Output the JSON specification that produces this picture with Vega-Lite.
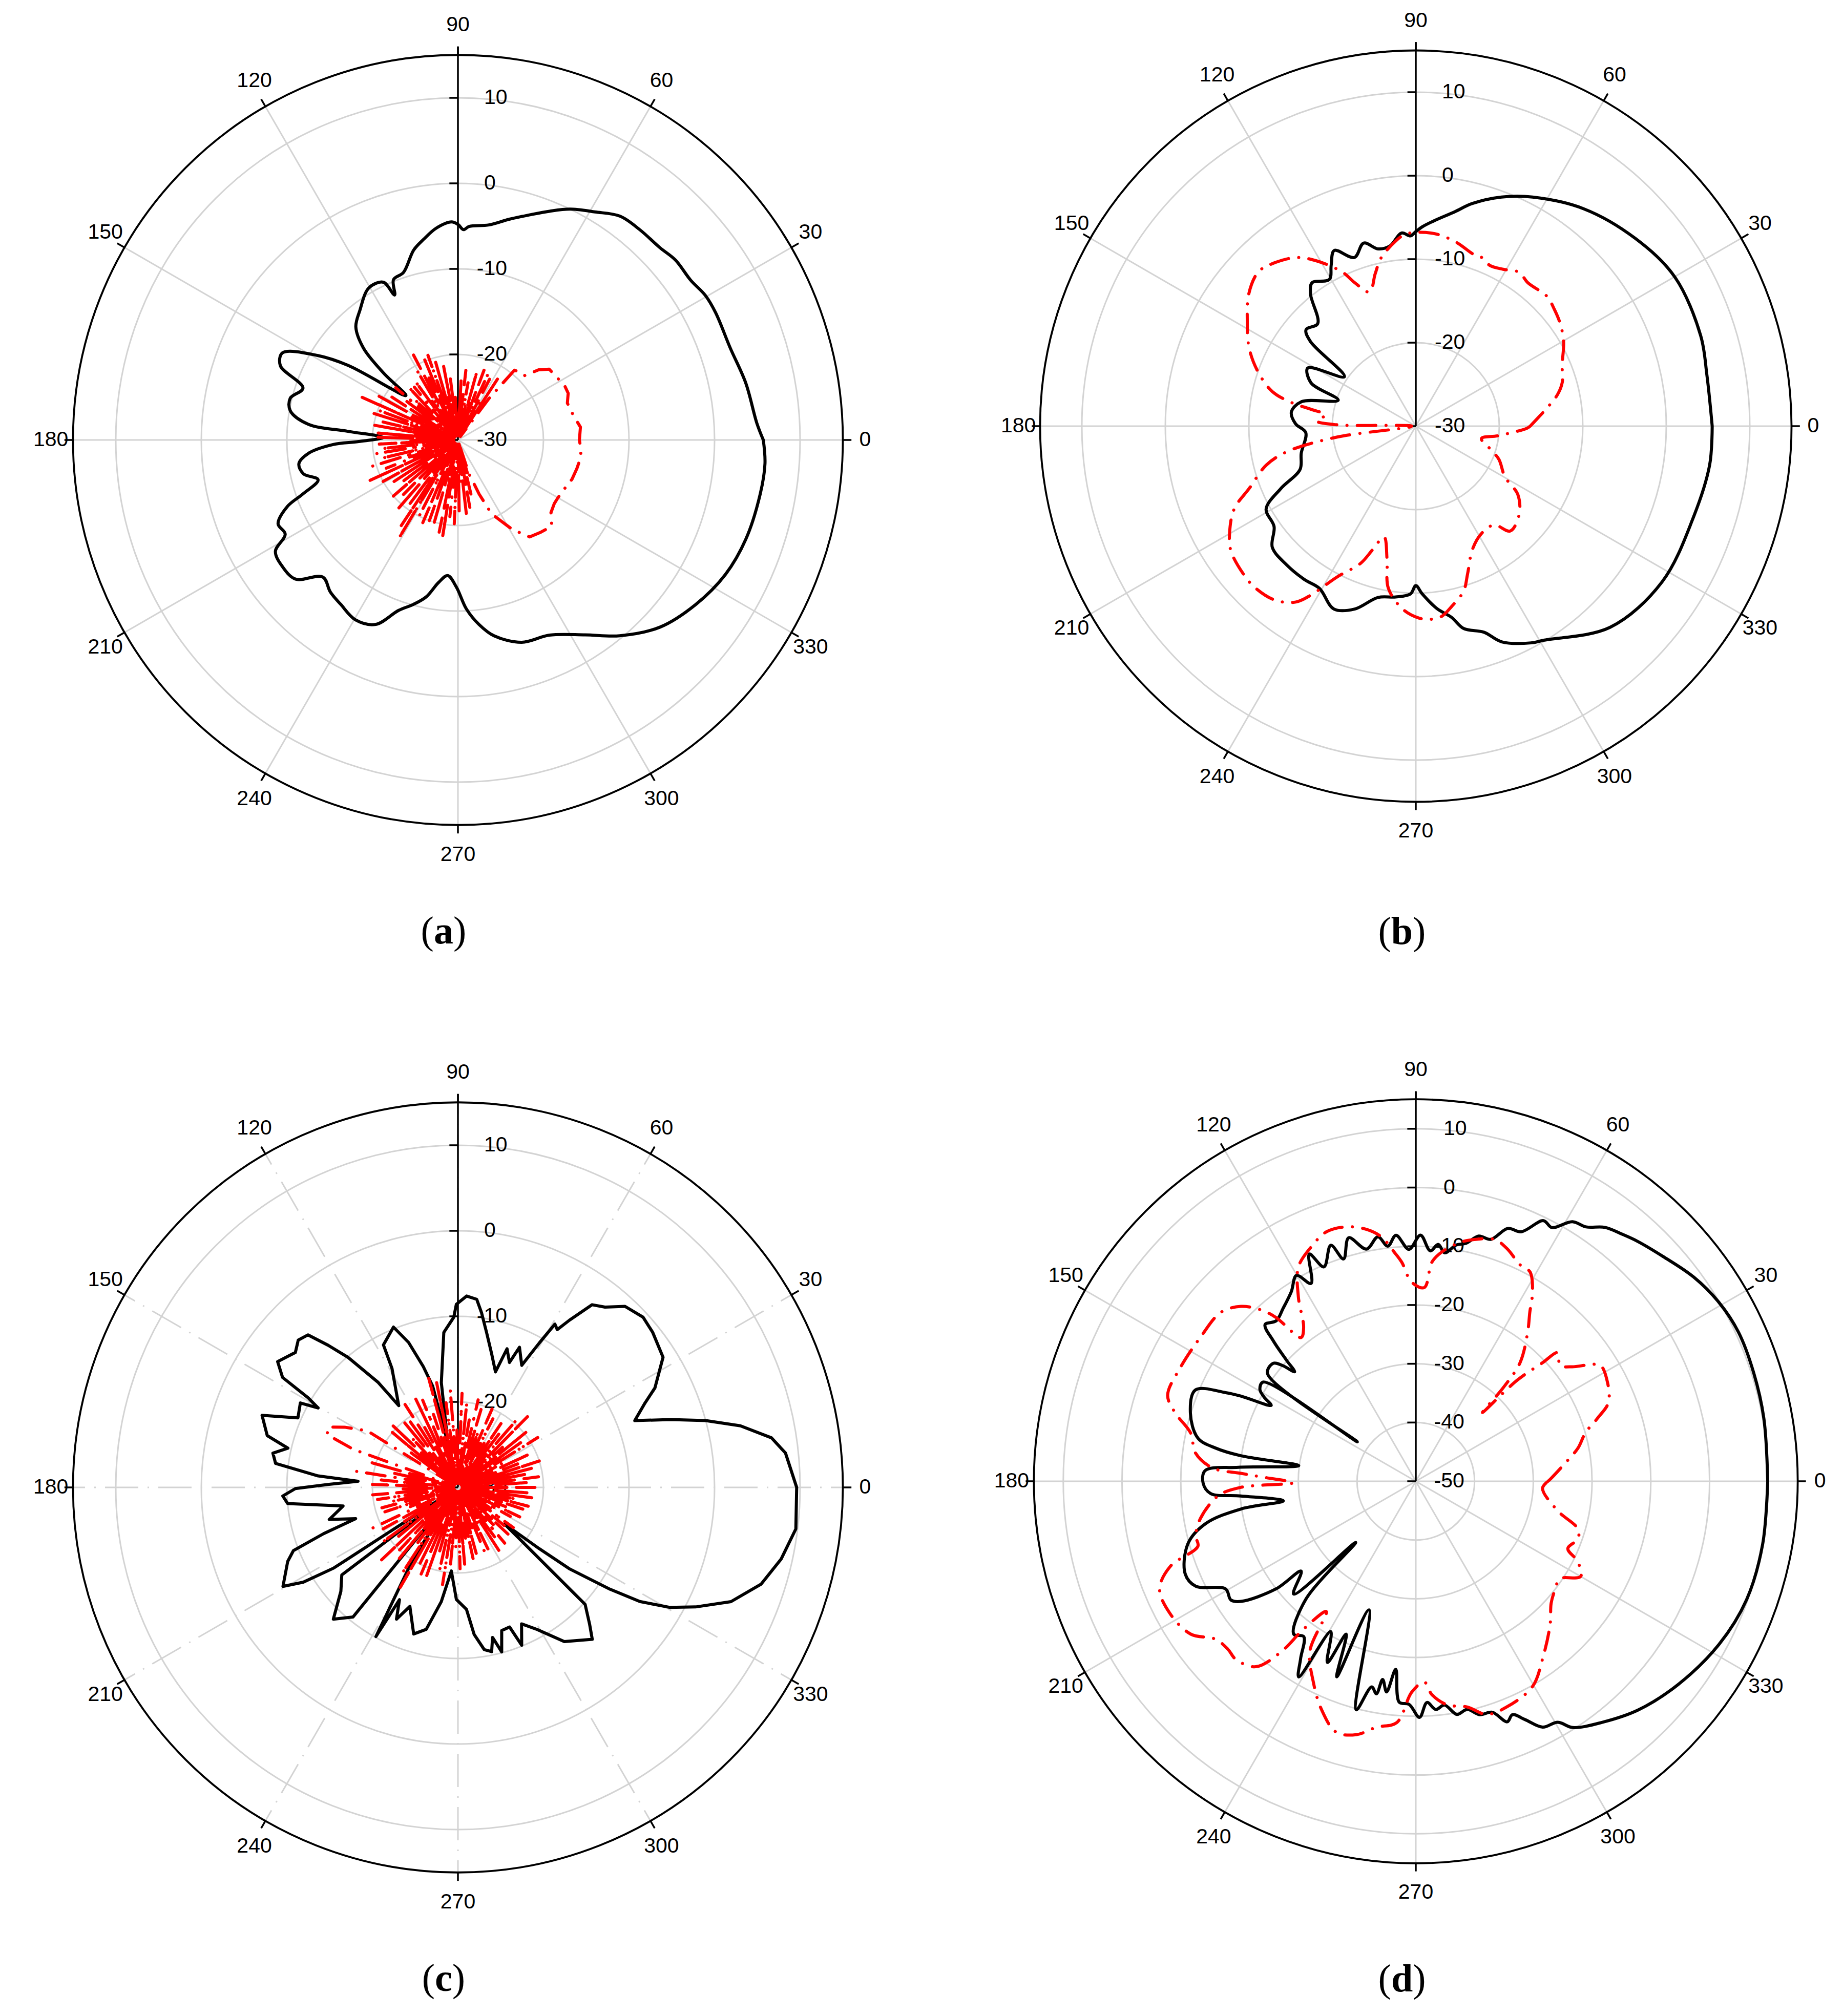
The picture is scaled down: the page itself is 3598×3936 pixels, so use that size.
{
"$schema":"https://vega.github.io/schema/vega-lite/v6.json",
"padding":0,
"background":"white",
"config":{"view":{"stroke":null}},
"resolve":{"scale":{"size":"independent","x":"independent","y":"independent"}},
"datasets":{
"ang":[{"a":0},{"a":30},{"a":60},{"a":90},{"a":120},{"a":150},{"a":180},{"a":210},{"a":240},{"a":270},{"a":300},{"a":330}],
"tk30":[{"v":-30},{"v":-20},{"v":-10},{"v":0},{"v":10}],
"tk50":[{"v":-50},{"v":-40},{"v":-30},{"v":-20},{"v":-10},{"v":0},{"v":10}],
"a_co":[{"a":0,"v":5.7},{"a":3.2,"v":5.0},{"a":11.2,"v":4.3},{"a":18.7,"v":3.6},{"a":26.3,"v":3.6},{"a":30.3,"v":3.5},{"a":34.5,"v":3.0},{"a":39.6,"v":3.0},{"a":43.6,"v":2.6},{"a":49.1,"v":2.5},{"a":54.1,"v":2.3},{"a":59,"v":1.1},{"a":64.1,"v":0.0},{"a":68.2,"v":-1.2},{"a":72.4,"v":-2.4},{"a":76.9,"v":-3.5},{"a":81.8,"v":-4.6},{"a":87,"v":-5.0},{"a":88.5,"v":-5.4},{"a":90,"v":-4.8},{"a":91.7,"v":-4.5},{"a":95.8,"v":-5.1},{"a":99.7,"v":-6.2},{"a":103.1,"v":-7.2},{"a":108,"v":-9.4},{"a":111.9,"v":-9.8},{"a":113.6,"v":-11.5},{"a":115.3,"v":-9.6},{"a":120.4,"v":-9.4},{"a":127.1,"v":-11.0},{"a":132.1,"v":-12.2},{"a":135.8,"v":-14.6},{"a":138,"v":-18.3},{"a":139.5,"v":-22.0},{"a":145.8,"v":-14.5},{"a":148.9,"v":-10.9},{"a":153.6,"v":-7.1},{"a":157.3,"v":-7.5},{"a":161.5,"v":-10.9},{"a":166,"v":-9.8},{"a":170.1,"v":-10.1},{"a":174,"v":-12.4},{"a":175.5,"v":-17.1},{"a":178.1,"v":-21.2},{"a":180.9,"v":-18.4},{"a":182.1,"v":-15.4},{"a":185.2,"v":-12.4},{"a":188.5,"v":-11.2},{"a":192.3,"v":-11.5},{"a":195.9,"v":-13.0},{"a":199.2,"v":-10.8},{"a":201.3,"v":-8.6},{"a":205,"v":-6.8},{"a":208.6,"v":-7.0},{"a":211.4,"v":-5.0},{"a":215.9,"v":-4.7},{"a":220.6,"v":-5.0},{"a":225.4,"v":-7.5},{"a":230,"v":-6.8},{"a":234.5,"v":-6.4},{"a":240.4,"v":-5.8},{"a":246,"v":-6.4},{"a":250.8,"v":-8.9},{"a":254.9,"v":-10.1},{"a":258.6,"v":-11.3},{"a":262.3,"v":-13.2},{"a":265.7,"v":-14.1},{"a":269.4,"v":-12.8},{"a":272.9,"v":-10.2},{"a":276.5,"v":-8.3},{"a":280.5,"v":-6.7},{"a":287.5,"v":-5.2},{"a":295.1,"v":-4.8},{"a":303.1,"v":-2.8},{"a":309.6,"v":-0.3},{"a":317.2,"v":2.2},{"a":325.3,"v":3.8},{"a":333.3,"v":5.0},{"a":341,"v":5.6},{"a":349.9,"v":5.9},{"a":355.6,"v":6.0},{"a":360,"v":5.7}],
"a_cx":[{"a":0,"v":-15.8},{"a":6,"v":-15.6},{"a":12,"v":-16.2},{"a":18.6,"v":-16.5},{"a":23,"v":-16.0},{"a":27,"v":-16.0},{"a":32,"v":-16.3},{"a":37.8,"v":-16.5},{"a":41,"v":-17.5},{"a":44.1,"v":-19.2},{"a":48,"v":-19.3},{"a":51,"v":-19.5},{"a":53.2,"v":-23.9},{"a":55,"v":-29.5},
{"a":56.4,"v":-29.5},{"a":57,"v":-21.5},{"a":57.6,"v":-29.5},{"a":59.4,"v":-29.5},{"a":60,"v":-25},{"a":60.6,"v":-29.5},{"a":61.9,"v":-29.5},{"a":62.5,"v":-22},{"a":63.1,"v":-29.5},{"a":64.9,"v":-29.5},{"a":65.5,"v":-21.5},{"a":66.1,"v":-29.5},{"a":68.9,"v":-29.5},{"a":69.5,"v":-21.3},{"a":70.1,"v":-29.5},{"a":71.4,"v":-29.5},{"a":72,"v":-25.5},{"a":72.6,"v":-29.5},{"a":73.9,"v":-29.5},{"a":74.5,"v":-21.6},{"a":75.1,"v":-29.5},{"a":76.9,"v":-29.5},{"a":77.5,"v":-26},{"a":78.1,"v":-29.5},{"a":79.4,"v":-29.5},{"a":80,"v":-23.2},{"a":80.6,"v":-29.5},{"a":82.9,"v":-29.5},{"a":83.5,"v":-21.8},{"a":84.1,"v":-29.5},{"a":86.4,"v":-29.5},{"a":87,"v":-23},{"a":87.6,"v":-29.5},{"a":89.9,"v":-29.5},{"a":90.5,"v":-27},{"a":91.1,"v":-29.5},{"a":92.9,"v":-29.5},{"a":93.5,"v":-25},{"a":94.1,"v":-29.5},{"a":96.4,"v":-29.5},{"a":97,"v":-22.5},{"a":97.6,"v":-29.5},{"a":100.4,"v":-29.5},{"a":101,"v":-21},{"a":101.6,"v":-29.5},{"a":102.9,"v":-29.5},{"a":103.5,"v":-24.5},{"a":104.1,"v":-29.5},{"a":105.4,"v":-29.5},{"a":106,"v":-20.5},{"a":106.6,"v":-29.5},{"a":108.9,"v":-29.5},{"a":109.5,"v":-19.5},{"a":110.1,"v":-29.5},{"a":111.9,"v":-29.5},{"a":112.5,"v":-19.6},{"a":113.1,"v":-29.5},{"a":114.4,"v":-29.5},{"a":115,"v":-22},{"a":115.6,"v":-29.5},{"a":117,"v":-29.5},{"a":117.6,"v":-18.8},{"a":118.2,"v":-29.5},{"a":119.9,"v":-29.5},{"a":120.5,"v":-20.5},{"a":121.1,"v":-29.5},{"a":122.9,"v":-29.5},{"a":123.5,"v":-24},{"a":124.1,"v":-29.5},{"a":125.4,"v":-29.5},{"a":126,"v":-21.5},{"a":126.6,"v":-29.5},{"a":128.9,"v":-29.5},{"a":129.5,"v":-22},{"a":130.1,"v":-29.5},{"a":132.4,"v":-29.5},{"a":133,"v":-21.5},{"a":133.6,"v":-29.5},{"a":136.4,"v":-29.5},{"a":137,"v":-23},{"a":137.6,"v":-29.5},{"a":139.4,"v":-29.5},{"a":140,"v":-20.5},{"a":140.6,"v":-29.5},{"a":142.4,"v":-29.5},{"a":143,"v":-22},{"a":143.6,"v":-29.5},{"a":146.4,"v":-29.5},{"a":147,"v":-20.8},{"a":147.6,"v":-29.5},{"a":150.4,"v":-29.5},{"a":151,"v":-19},{"a":151.6,"v":-29.5},{"a":152.9,"v":-29.5},{"a":153.5,"v":-24},{"a":154.1,"v":-29.5},{"a":155.4,"v":-29.5},{"a":156,"v":-17.6},{"a":156.6,"v":-29.5},{"a":158.9,"v":-29.5},{"a":159.5,"v":-20},{"a":160.1,"v":-29.5},{"a":161.9,"v":-29.5},{"a":162.5,"v":-19.5},{"a":163.1,"v":-29.5},{"a":165.9,"v":-29.5},{"a":166.5,"v":-21},{"a":167.1,"v":-29.5},{"a":169.4,"v":-29.5},{"a":170,"v":-20},{"a":170.6,"v":-29.5},{"a":171.9,"v":-29.5},{"a":172.5,"v":-25},{"a":173.1,"v":-29.5},{"a":174.4,"v":-29.5},{"a":175,"v":-20.6},{"a":175.6,"v":-29.5},{"a":177.4,"v":-29.5},{"a":178,"v":-20.4},{"a":178.6,"v":-29.5},{"a":179.9,"v":-29.5},{"a":180.5,"v":-24.5},{"a":181.1,"v":-29.5},{"a":182.4,"v":-29.5},{"a":183,"v":-20.8},{"a":183.6,"v":-29.5},{"a":185.9,"v":-29.5},{"a":186.5,"v":-21},{"a":187.1,"v":-29.5},{"a":188.9,"v":-29.5},{"a":189.5,"v":-20.3},{"a":190.1,"v":-29.5},{"a":192.9,"v":-29.5},{"a":193.5,"v":-20.8},{"a":194.1,"v":-29.5},{"a":196.4,"v":-29.5},{"a":197,"v":-19.5},{"a":197.6,"v":-29.5},{"a":198.9,"v":-29.5},{"a":199.5,"v":-24},{"a":200.1,"v":-29.5},{"a":200.9,"v":-29.5},{"a":201.5,"v":-21},{"a":202.1,"v":-29.5},{"a":204.1,"v":-29.5},{"a":204.7,"v":-18.5},{"a":205.3,"v":-29.5},{"a":208.4,"v":-29.5},{"a":209,"v":-20},{"a":209.6,"v":-29.5},{"a":212.4,"v":-29.5},{"a":213,"v":-21},{"a":213.6,"v":-29.5},{"a":216.4,"v":-29.5},{"a":217,"v":-21.5},{"a":217.6,"v":-29.5},{"a":220.4,"v":-29.5},{"a":221,"v":-20},{"a":221.6,"v":-29.5},{"a":224.4,"v":-29.5},{"a":225,"v":-21},{"a":225.6,"v":-29.5},{"a":228.4,"v":-29.5},{"a":229,"v":-19},{"a":229.6,"v":-29.5},{"a":232.4,"v":-29.5},{"a":233,"v":-20.3},{"a":233.6,"v":-29.5},{"a":235.9,"v":-29.5},{"a":236.5,"v":-18},{"a":237.1,"v":-29.5},{"a":238.4,"v":-29.5},{"a":239,"v":-16.5},{"a":239.6,"v":-29.5},{"a":242.4,"v":-29.5},{"a":243,"v":-20},{"a":243.6,"v":-29.5},{"a":246.4,"v":-29.5},{"a":247,"v":-19.5},{"a":247.6,"v":-29.5},{"a":249.9,"v":-29.5},{"a":250.5,"v":-20},{"a":251.1,"v":-29.5},{"a":253.4,"v":-29.5},{"a":254,"v":-19.5},{"a":254.6,"v":-29.5},{"a":255.9,"v":-29.5},{"a":256.5,"v":-25},{"a":257.1,"v":-29.5},{"a":257.9,"v":-29.5},{"a":258.5,"v":-19},{"a":259.1,"v":-29.5},{"a":260.4,"v":-29.5},{"a":261,"v":-18.2},{"a":261.6,"v":-29.5},{"a":263.4,"v":-29.5},{"a":264,"v":-21},{"a":264.6,"v":-29.5},{"a":266.9,"v":-29.5},{"a":267.5,"v":-20.2},{"a":268.1,"v":-29.5},{"a":270.4,"v":-29.5},{"a":271,"v":-21.5},{"a":271.6,"v":-29.5},{"a":273.4,"v":-29.5},{"a":274,"v":-25},{"a":274.6,"v":-29.5},{"a":275.9,"v":-29.5},{"a":276.5,"v":-21},{"a":277.1,"v":-29.5},{"a":279.4,"v":-29.5},{"a":280,"v":-22},{"a":280.6,"v":-29.5},{"a":282.9,"v":-29.5},{"a":283.5,"v":-23.5},{"a":284.1,"v":-29.5},{"a":285.4,"v":-29.5},{"a":286,"v":-26},{"a":286.6,"v":-29.5},
{"a":288,"v":-25.9},{"a":291.4,"v":-23.2},{"a":294.5,"v":-20.5},{"a":301.2,"v":-17.8},{"a":306.5,"v":-15.9},{"a":312,"v":-15.5},{"a":317.4,"v":-15.1},{"a":322,"v":-16.2},{"a":326.5,"v":-16.5},{"a":330,"v":-16.5},{"a":335.4,"v":-16.3},{"a":341,"v":-15.9},{"a":346.5,"v":-15.7},{"a":352,"v":-15.5},{"a":356,"v":-15.6},{"a":360,"v":-15.8}],
"b_co":[{"a":0,"v":5.5},{"a":10,"v":5.4},{"a":17.6,"v":5.8},{"a":29.9,"v":5.8},{"a":40.5,"v":4.6},{"a":52.3,"v":2.9},{"a":63,"v":0.8},{"a":69.5,"v":-0.7},{"a":75.8,"v":-2.5},{"a":79.7,"v":-3.9},{"a":84.9,"v":-5.3},{"a":88.1,"v":-6.1},{"a":90,"v":-6.7},{"a":91.6,"v":-7.2},{"a":94.2,"v":-6.8},{"a":98.2,"v":-8.2},{"a":102,"v":-8.3},{"a":105.9,"v":-7.2},{"a":110,"v":-8.5},{"a":114.9,"v":-6.8},{"a":117.7,"v":-8.2},{"a":120.5,"v":-9.6},{"a":125.9,"v":-8.8},{"a":128.6,"v":-9.8},{"a":133.7,"v":-13.0},{"a":138.7,"v":-12.5},{"a":141.2,"v":-13.8},{"a":145.3,"v":-19.6},{"a":151.7,"v":-15.3},{"a":157.5,"v":-16.4},{"a":161.5,"v":-20.2},{"a":167.9,"v":-16.0},{"a":173.5,"v":-15.0},{"a":178.9,"v":-15.6},{"a":183.4,"v":-16.8},{"a":193.3,"v":-15.9},{"a":200.5,"v":-15.2},{"a":204.8,"v":-12.2},{"a":209,"v":-9.5},{"a":215.3,"v":-9.2},{"a":220.2,"v":-7.5},{"a":227.1,"v":-7.3},{"a":234.1,"v":-7.3},{"a":239.3,"v":-7.4},{"a":245.9,"v":-6.0},{"a":251.5,"v":-6.9},{"a":257.6,"v":-9.0},{"a":263.3,"v":-9.4},{"a":268.2,"v":-9.9},{"a":270,"v":-10.9},{"a":272.2,"v":-9.9},{"a":276.6,"v":-8.0},{"a":280.6,"v":-6.7},{"a":283.3,"v":-5.1},{"a":288.3,"v":-4.0},{"a":291.7,"v":-2.2},{"a":298,"v":-0.6},{"a":301,"v":-0.1},{"a":314,"v":3.5},{"a":327.7,"v":4.9},{"a":342,"v":5.0},{"a":352.5,"v":5.5},{"a":360,"v":5.5}],
"b_cx":[{"a":0,"v":-16.3},{"a":2.5,"v":-15.7},{"a":8.6,"v":-13.9},{"a":12.6,"v":-12.6},{"a":16.6,"v":-11.7},{"a":22.7,"v":-11.0},{"a":29.8,"v":-9.6},{"a":35.3,"v":-8.8},{"a":40.1,"v":-8.3},{"a":44.7,"v":-7.9},{"a":52,"v":-8.2},{"a":56.1,"v":-7.8},{"a":60.9,"v":-8.5},{"a":65.3,"v":-8.8},{"a":68.8,"v":-8.3},{"a":71.3,"v":-8.3},{"a":77.2,"v":-7.5},{"a":81.9,"v":-7.0},{"a":85.5,"v":-6.8},{"a":90,"v":-6.8},{"a":93.3,"v":-7.0},{"a":96.2,"v":-7.7},{"a":101.6,"v":-9.4},{"a":104.9,"v":-11.1},{"a":109,"v":-13.0},{"a":113.1,"v":-11.3},{"a":115.4,"v":-9.6},{"a":121,"v":-6.9},{"a":125.5,"v":-5.2},{"a":132.3,"v":-3.9},{"a":135.8,"v":-3.6},{"a":141.7,"v":-4.5},{"a":148,"v":-6.2},{"a":154.7,"v":-7.9},{"a":160.7,"v":-9.9},{"a":166.4,"v":-12.3},{"a":169.4,"v":-15.0},{"a":170.8,"v":-17.2},{"a":173,"v":-19.1},{"a":177,"v":-18.1},{"a":179,"v":-20.5},{"a":181,"v":-29.5},{"a":187.9,"v":-20.5},{"a":191.2,"v":-14.3},{"a":194.6,"v":-11.5},{"a":200.5,"v":-8.7},{"a":204.5,"v":-6.1},{"a":209.8,"v":-4.3},{"a":213.9,"v":-3.3},{"a":220.5,"v":-2.8},{"a":225,"v":-2.7},{"a":231.1,"v":-3.2},{"a":235.7,"v":-4.5},{"a":238.3,"v":-6.3},{"a":242.4,"v":-9.6},{"a":248.1,"v":-12.3},{"a":250.7,"v":-14.3},{"a":254,"v":-16.2},{"a":257.8,"v":-13.7},{"a":260.4,"v":-10.3},{"a":266,"v":-8.0},{"a":271,"v":-7.0},{"a":274.5,"v":-6.8},{"a":277.7,"v":-7.0},{"a":281.3,"v":-8.0},{"a":286.1,"v":-9.4},{"a":289.4,"v":-11.3},{"a":294.5,"v":-13.7},{"a":301.2,"v":-14.9},{"a":308.4,"v":-14.9},{"a":312,"v":-13.1},{"a":319.4,"v":-13.7},{"a":326.2,"v":-15.3},{"a":330.3,"v":-17.7},{"a":338.3,"v":-19.3},{"a":343,"v":-20.7},{"a":349.3,"v":-22.0},{"a":353.5,"v":-20.0},{"a":358.9,"v":-16.7},{"a":360,"v":-16.3}],
"c_co":[{"a":0,"v":9.6},{"a":6,"v":8.5},{"a":9,"v":7.1},{"a":12.3,"v":3.8},{"a":15.1,"v":0.0},{"a":17.7,"v":-3.9},{"a":20.7,"v":-7.9},{"a":24.3,"v":-6.0},{"a":26.8,"v":-4.2},{"a":32.4,"v":-1.6},{"a":38.5,"v":-0.9},{"a":42.6,"v":-0.6},{"a":47.3,"v":-1.2},{"a":50.8,"v":-2.8},{"a":53.7,"v":-3.5},{"a":56.3,"v":-6.5},{"a":57.8,"v":-8.2},{"a":59.3,"v":-7.8},{"a":60.6,"v":-10.6},{"a":62.4,"v":-13.9},{"a":66.3,"v":-12.1},{"a":67.6,"v":-14.2},{"a":70.5,"v":-12.8},{"a":72,"v":-15.8},{"a":76,"v":-13.8},{"a":79.5,"v":-11.6},{"a":82.3,"v":-9.4},{"a":84.3,"v":-7.9},{"a":87.4,"v":-7.6},{"a":90.5,"v":-8.6},{"a":91.4,"v":-10.1},{"a":95.2,"v":-11.8},{"a":99,"v":-17.6},{"a":102.8,"v":-24.7},{"a":104,"v":-17.8},{"a":106,"v":-15.3},{"a":108.8,"v":-12.1},{"a":111.9,"v":-9.8},{"a":117.6,"v":-11.2},{"a":119,"v":-14.1},{"a":125.9,"v":-18.2},{"a":127.2,"v":-14.6},{"a":130.2,"v":-10.1},{"a":132.4,"v":-7.5},{"a":134.5,"v":-5.0},{"a":137.3,"v":-4.6},{"a":140.3,"v":-5.3},{"a":145.1,"v":-4.3},{"a":147.9,"v":-5.8},{"a":149.1,"v":-9.6},{"a":150.4,"v":-11.2},{"a":151.8,"v":-9.1},{"a":156.5,"v":-9.6},{"a":159.8,"v":-5.6},{"a":164.8,"v":-6.9},{"a":167,"v":-9.6},{"a":169.5,"v":-8.0},{"a":172.5,"v":-8.5},{"a":175.3,"v":-13.6},{"a":176.5,"v":-18.3},{"a":178.7,"v":-14.8},{"a":180.4,"v":-11.0},{"a":182.8,"v":-9.5},{"a":185.4,"v":-10.0},{"a":189.2,"v":-16.4},{"a":194,"v":-14.5},{"a":197,"v":-17.5},{"a":199,"v":-13.4},{"a":201,"v":-9.4},{"a":203.5,"v":-8.3},{"a":209.5,"v":-6.5},{"a":211.5,"v":-8.8},{"a":213,"v":-12.7},{"a":214,"v":-29.5},{"a":217,"v":-13.0},{"a":221.6,"v":-11.7},{"a":226.6,"v":-8.8},{"a":231,"v":-10.5},{"a":233.5,"v":-29.5},{"a":238,"v":-20},{"a":241.2,"v":-10.1},{"a":242.5,"v":-15.2},{"a":245,"v":-13},{"a":248,"v":-15},{"a":253.2,"v":-12.1},{"a":257.4,"v":-13.0},{"a":261.7,"v":-16.5},{"a":265.5,"v":-20.2},{"a":269.2,"v":-16.9},{"a":274,"v":-15.7},{"a":276.3,"v":-12.7},{"a":279.2,"v":-10.8},{"a":281.6,"v":-10.4},{"a":283,"v":-12.0},{"a":284.9,"v":-10.1},{"a":287,"v":-12.5},{"a":290.3,"v":-12.6},{"a":292,"v":-10.1},{"a":295,"v":-12.4},{"a":299.1,"v":-11.0},{"a":304.6,"v":-8.1},{"a":311.5,"v":-6.3},{"a":313.9,"v":-7.8},{"a":317.4,"v":-9.8},{"a":321.9,"v":-23.1},{"a":323,"v":-18.1},{"a":323.9,"v":-13.8},{"a":326.2,"v":-8.6},{"a":327.9,"v":-4.9},{"a":330.5,"v":-1.5},{"a":333.3,"v":1.1},{"a":337.3,"v":4.6},{"a":342.3,"v":7.2},{"a":347.5,"v":8.7},{"a":353,"v":9.8},{"a":360,"v":9.6}],
"c_cx":[{"a":0,"v":-21},{"a":0.6,"v":-29.5},
{"a":3.4,"v":-29.5},{"a":4,"v":-21.5},{"a":4.6,"v":-29.5},{"a":6.9,"v":-29.5},{"a":7.5,"v":-20.5},{"a":8.1,"v":-29.5},{"a":10.4,"v":-29.5},{"a":11,"v":-22},{"a":11.6,"v":-29.5},{"a":13.9,"v":-29.5},{"a":14.5,"v":-21},{"a":15.1,"v":-29.5},{"a":17.4,"v":-29.5},{"a":18,"v":-20},{"a":18.6,"v":-29.5},{"a":20.9,"v":-29.5},{"a":21.5,"v":-22.5},{"a":22.1,"v":-29.5},{"a":24.4,"v":-29.5},{"a":25,"v":-20.5},{"a":25.6,"v":-29.5},{"a":27.9,"v":-29.5},{"a":28.5,"v":-24},{"a":29.1,"v":-29.5},{"a":31.4,"v":-29.5},{"a":32,"v":-19},{"a":32.6,"v":-29.5},{"a":34.9,"v":-29.5},{"a":35.5,"v":-21},{"a":36.1,"v":-29.5},{"a":38.4,"v":-29.5},{"a":39,"v":-19.5},{"a":39.6,"v":-29.5},{"a":41.4,"v":-29.5},{"a":42,"v":-23},{"a":42.6,"v":-29.5},{"a":44.9,"v":-29.5},{"a":45.5,"v":-18.4},{"a":46.1,"v":-29.5},{"a":48.4,"v":-29.5},{"a":49,"v":-19.5},{"a":49.6,"v":-29.5},{"a":51.9,"v":-29.5},{"a":52.5,"v":-22},{"a":53.1,"v":-29.5},{"a":55.4,"v":-29.5},{"a":56,"v":-21},{"a":56.6,"v":-29.5},{"a":58.9,"v":-29.5},{"a":59.5,"v":-24},{"a":60.1,"v":-29.5},{"a":62.4,"v":-29.5},{"a":63,"v":-21},{"a":63.6,"v":-29.5},{"a":65.9,"v":-29.5},{"a":66.5,"v":-20},{"a":67.1,"v":-29.5},{"a":69.4,"v":-29.5},{"a":70,"v":-23},{"a":70.6,"v":-29.5},{"a":72.9,"v":-29.5},{"a":73.5,"v":-20.5},{"a":74.1,"v":-29.5},{"a":76.4,"v":-29.5},{"a":77,"v":-19.5},{"a":77.6,"v":-29.5},{"a":79.9,"v":-29.5},{"a":80.5,"v":-22},{"a":81.1,"v":-29.5},{"a":83.4,"v":-29.5},{"a":84,"v":-20},{"a":84.6,"v":-29.5},{"a":86.9,"v":-29.5},{"a":87.5,"v":-19},{"a":88.1,"v":-29.5},{"a":90.4,"v":-29.5},{"a":91,"v":-23},{"a":91.6,"v":-29.5},{"a":93.9,"v":-29.5},{"a":94.5,"v":-18.5},{"a":95.1,"v":-29.5},{"a":97.4,"v":-29.5},{"a":98,"v":-20},{"a":98.6,"v":-29.5},{"a":100.9,"v":-29.5},{"a":101.5,"v":-17.5},{"a":102.1,"v":-29.5},{"a":104.4,"v":-29.5},{"a":105,"v":-16.8},{"a":105.6,"v":-29.5},{"a":107.9,"v":-29.5},{"a":108.5,"v":-21},{"a":109.1,"v":-29.5},{"a":111.4,"v":-29.5},{"a":112,"v":-19},{"a":112.6,"v":-29.5},{"a":114.9,"v":-29.5},{"a":115.5,"v":-18.5},{"a":116.1,"v":-29.5},{"a":118.4,"v":-29.5},{"a":119,"v":-22},{"a":119.6,"v":-29.5},{"a":121.9,"v":-29.5},{"a":122.5,"v":-18.5},{"a":123.1,"v":-29.5},{"a":125.4,"v":-29.5},{"a":126,"v":-20},{"a":126.6,"v":-29.5},{"a":128.9,"v":-29.5},{"a":129.5,"v":-19.7},{"a":130.1,"v":-29.5},{"a":132.4,"v":-29.5},{"a":133,"v":-22},{"a":133.6,"v":-29.5},{"a":135.9,"v":-29.5},{"a":136.5,"v":-19},{"a":137.1,"v":-29.5},{"a":139.4,"v":-29.5},{"a":140,"v":-20},{"a":140.6,"v":-29.5},{"a":142.9,"v":-29.5},{"a":143.5,"v":-23},{"a":144.1,"v":-29.5},
{"a":147.4,"v":-29.5},{"a":148,"v":-17.5},{"a":152,"v":-15},{"a":155,"v":-13.3},{"a":158,"v":-13.5},{"a":160,"v":-17},{"a":161,"v":-29.5},
{"a":163.4,"v":-29.5},{"a":164,"v":-19},{"a":164.6,"v":-29.5},{"a":166.9,"v":-29.5},{"a":167.5,"v":-22},{"a":168.1,"v":-29.5},{"a":170.4,"v":-29.5},{"a":171,"v":-18},{"a":171.6,"v":-29.5},{"a":173.9,"v":-29.5},{"a":174.5,"v":-21},{"a":175.1,"v":-29.5},{"a":177.4,"v":-29.5},{"a":178,"v":-20},{"a":178.6,"v":-29.5},{"a":180.9,"v":-29.5},{"a":181.5,"v":-23},{"a":182.1,"v":-29.5},{"a":184.4,"v":-29.5},{"a":185,"v":-20},{"a":185.6,"v":-29.5},{"a":187.9,"v":-29.5},{"a":188.5,"v":-20.5},{"a":189.1,"v":-29.5},{"a":191.4,"v":-29.5},{"a":192,"v":-22},{"a":192.6,"v":-29.5},{"a":194.4,"v":-29.5},{"a":195,"v":-20.8},{"a":195.6,"v":-29.5},{"a":197.9,"v":-29.5},{"a":198.5,"v":-21},{"a":199.1,"v":-29.5},{"a":201.4,"v":-29.5},{"a":202,"v":-24},{"a":202.6,"v":-29.5},{"a":204.9,"v":-29.5},{"a":205.5,"v":-19},{"a":206.1,"v":-29.5},{"a":208.4,"v":-29.5},{"a":209,"v":-20},{"a":209.6,"v":-29.5},{"a":211.9,"v":-29.5},{"a":212.5,"v":-22},{"a":213.1,"v":-29.5},{"a":215.4,"v":-29.5},{"a":216,"v":-19},{"a":216.6,"v":-29.5},{"a":218.9,"v":-29.5},{"a":219.5,"v":-21},{"a":220.1,"v":-29.5},{"a":222.9,"v":-29.5},{"a":223.5,"v":-17.7},{"a":224.1,"v":-29.5},{"a":226.4,"v":-29.5},{"a":227,"v":-20},{"a":227.6,"v":-29.5},{"a":229.9,"v":-29.5},{"a":230.5,"v":-19},{"a":231.1,"v":-29.5},{"a":233.4,"v":-29.5},{"a":234,"v":-22},{"a":234.6,"v":-29.5},{"a":236.4,"v":-29.5},{"a":237,"v":-18},{"a":237.6,"v":-29.5},{"a":239.4,"v":-29.5},{"a":240,"v":-16.5},{"a":240.6,"v":-29.5},{"a":242.9,"v":-29.5},{"a":243.5,"v":-20},{"a":244.1,"v":-29.5},{"a":246.4,"v":-29.5},{"a":247,"v":-19},{"a":247.6,"v":-29.5},{"a":249.9,"v":-29.5},{"a":250.5,"v":-19},{"a":251.1,"v":-29.5},{"a":253.4,"v":-29.5},{"a":254,"v":-22},{"a":254.6,"v":-29.5},{"a":256.9,"v":-29.5},{"a":257.5,"v":-20},{"a":258.1,"v":-29.5},{"a":260.4,"v":-29.5},{"a":261,"v":-18.5},{"a":261.6,"v":-29.5},{"a":263.9,"v":-29.5},{"a":264.5,"v":-21},{"a":265.1,"v":-29.5},{"a":267.4,"v":-29.5},{"a":268,"v":-23},{"a":268.6,"v":-29.5},{"a":270.9,"v":-29.5},{"a":271.5,"v":-20.5},{"a":272.1,"v":-29.5},{"a":274.4,"v":-29.5},{"a":275,"v":-21},{"a":275.6,"v":-29.5},{"a":277.9,"v":-29.5},{"a":278.5,"v":-24},{"a":279.1,"v":-29.5},{"a":281.4,"v":-29.5},{"a":282,"v":-21.5},{"a":282.6,"v":-29.5},{"a":284.9,"v":-29.5},{"a":285.5,"v":-22},{"a":286.1,"v":-29.5},{"a":288.4,"v":-29.5},{"a":289,"v":-25},{"a":289.6,"v":-29.5},{"a":291.9,"v":-29.5},{"a":292.5,"v":-22},{"a":293.1,"v":-29.5},{"a":295.4,"v":-29.5},{"a":296,"v":-22},{"a":296.6,"v":-29.5},{"a":298.9,"v":-29.5},{"a":299.5,"v":-25},{"a":300.1,"v":-29.5},{"a":302.4,"v":-29.5},{"a":303,"v":-21},{"a":303.6,"v":-29.5},{"a":305.9,"v":-29.5},{"a":306.5,"v":-22.5},{"a":307.1,"v":-29.5},{"a":309.4,"v":-29.5},{"a":310,"v":-21.5},{"a":310.6,"v":-29.5},{"a":312.9,"v":-29.5},{"a":313.5,"v":-24},{"a":314.1,"v":-29.5},{"a":316.4,"v":-29.5},{"a":317,"v":-22},{"a":317.6,"v":-29.5},{"a":319.9,"v":-29.5},{"a":320.5,"v":-23},{"a":321.1,"v":-29.5},{"a":323.4,"v":-29.5},{"a":324,"v":-22},{"a":324.6,"v":-29.5},{"a":326.9,"v":-29.5},{"a":327.5,"v":-25},{"a":328.1,"v":-29.5},{"a":330.4,"v":-29.5},{"a":331,"v":-23},{"a":331.6,"v":-29.5},{"a":333.9,"v":-29.5},{"a":334.5,"v":-22},{"a":335.1,"v":-29.5},{"a":337.4,"v":-29.5},{"a":338,"v":-24},{"a":338.6,"v":-29.5},{"a":340.9,"v":-29.5},{"a":341.5,"v":-22},{"a":342.1,"v":-29.5},{"a":344.4,"v":-29.5},{"a":345,"v":-21.5},{"a":345.6,"v":-29.5},{"a":347.9,"v":-29.5},{"a":348.5,"v":-23},{"a":349.1,"v":-29.5},{"a":351.4,"v":-29.5},{"a":352,"v":-21},{"a":352.6,"v":-29.5},{"a":354.9,"v":-29.5},{"a":355.5,"v":-21.5},{"a":356.1,"v":-29.5},{"a":359.4,"v":-29.5},{"a":360,"v":-21}],
"d_co":[{"a":0,"v":9.9},{"a":10.3,"v":10.2},{"a":17.8,"v":10.4},{"a":24.8,"v":10.5},{"a":30.6,"v":9.9},{"a":36.3,"v":8.7},{"a":42.2,"v":6.9},{"a":47.3,"v":5.6},{"a":50.1,"v":4.8},{"a":53.3,"v":3.9},{"a":56.2,"v":2.1},{"a":58.9,"v":1.6},{"a":61.8,"v":-1.0},{"a":63.9,"v":-0.6},{"a":67.1,"v":-3.9},{"a":70,"v":-4.2},{"a":72.8,"v":-6.9},{"a":75.6,"v":-6.9},{"a":78.1,"v":-8.6},{"a":80.3,"v":-9.2},{"a":82.8,"v":-10.8},{"a":84.6,"v":-9.5},{"a":86.4,"v":-10.7},{"a":88.9,"v":-8.1},{"a":91.7,"v":-10.5},{"a":94.6,"v":-8.0},{"a":96.8,"v":-9.7},{"a":98.8,"v":-7.9},{"a":102,"v":-9.6},{"a":105.4,"v":-7.0},{"a":108,"v":-10.2},{"a":109.8,"v":-7.3},{"a":113.2,"v":-10.3},{"a":115.1,"v":-7.3},{"a":117.9,"v":-11.9},{"a":120.1,"v":-9.5},{"a":123.3,"v":-11.4},{"a":127.5,"v":-12.9},{"a":131,"v":-13.8},{"a":133.9,"v":-13.0},{"a":135.4,"v":-15.9},{"a":136.9,"v":-19.9},{"a":137.9,"v":-22.2},{"a":139,"v":-20},{"a":140.4,"v":-18.5},{"a":144,"v":-18.8},{"a":146,"v":-38},{"a":147,"v":-19.0},{"a":149.5,"v":-19.2},{"a":151,"v":-20.5},{"a":152.3,"v":-22.2},{"a":154,"v":-17},{"a":155,"v":-14.3},{"a":157.5,"v":-9.4},{"a":163.1,"v":-9.9},{"a":168.8,"v":-12.2},{"a":170.6,"v":-15.5},{"a":171.7,"v":-19.9},{"a":172.4,"v":-29.9},{"a":175.5,"v":-19.7},{"a":177.1,"v":-14.1},{"a":180.5,"v":-13.8},{"a":183.4,"v":-15.0},{"a":184.8,"v":-20.1},{"a":188.4,"v":-27.2},{"a":189,"v":-19.9},{"a":191.4,"v":-13.5},{"a":195.3,"v":-9.8},{"a":201.9,"v":-7.7},{"a":205.5,"v":-8.5},{"a":209.5,"v":-12.8},{"a":212.7,"v":-12.6},{"a":214.5,"v":-13.9},{"a":217.6,"v":-20.0},{"a":218.1,"v":-25.2},{"a":222.7,"v":-21.7},{"a":225.5,"v":-35.4},{"a":227,"v":-22.6},{"a":231.4,"v":-16.7},{"a":234.2,"v":-17.4},{"a":237,"v":-14},{"a":239.1,"v":-11.2},{"a":240.5,"v":-20.6},{"a":244,"v":-15.7},{"a":245.5,"v":-21.4},{"a":248,"v":-14.1},{"a":250,"v":-26.7},{"a":255.4,"v":-9.8},{"a":257.9,"v":-14.2},{"a":259.5,"v":-13.2},{"a":260.5,"v":-15.8},{"a":262.1,"v":-13.8},{"a":263.9,"v":-17.8},{"a":265.7,"v":-12.3},{"a":268.3,"v":-12.0},{"a":270.9,"v":-9.8},{"a":272.9,"v":-12.3},{"a":275,"v":-11.0},{"a":277.3,"v":-11.6},{"a":280,"v":-9.7},{"a":282.7,"v":-10.2},{"a":285.3,"v":-8.8},{"a":288.3,"v":-8.6},{"a":290.8,"v":-6.2},{"a":292.5,"v":-7.0},{"a":294.6,"v":-5.4},{"a":297.3,"v":-2.9},{"a":300.5,"v":-2.4},{"a":302.5,"v":-0.3},{"a":307.8,"v":1.9},{"a":314.2,"v":4.3},{"a":322.3,"v":6.5},{"a":331.7,"v":8.6},{"a":340.3,"v":9.8},{"a":349.7,"v":10.0},{"a":360,"v":9.9}],
"d_cx":[{"a":0,"v":-27.5},{"a":0.9,"v":-27.1},{"a":6.9,"v":-24.4},{"a":11.6,"v":-21.8},{"a":15.9,"v":-20.0},{"a":19.2,"v":-17.2},{"a":22.2,"v":-14.6},{"a":27.2,"v":-13.3},{"a":32.2,"v":-12.9},{"a":34,"v":-14.6},{"a":36.2,"v":-17.0},{"a":38.8,"v":-18.5},{"a":42.2,"v":-17.4},{"a":43.1,"v":-20.5},{"a":44.9,"v":-25.6},{"a":45.9,"v":-33.7},{"a":47,"v":-28},{"a":48.7,"v":-23.1},{"a":53.1,"v":-18.3},{"a":56,"v":-15.3},{"a":58.3,"v":-12.2},{"a":61.4,"v":-9.4},{"a":64.3,"v":-9.1},{"a":68.5,"v":-7.5},{"a":71.9,"v":-6.7},{"a":75.8,"v":-7.5},{"a":79.1,"v":-8.5},{"a":83.5,"v":-10.7},{"a":85.8,"v":-12.6},{"a":87.5,"v":-17.0},{"a":91.2,"v":-16.1},{"a":93.7,"v":-12.6},{"a":95.4,"v":-10.8},{"a":98,"v":-8.0},{"a":101.1,"v":-6.3},{"a":105.3,"v":-5.1},{"a":109.7,"v":-4.9},{"a":114,"v":-6.3},{"a":118.7,"v":-8.4},{"a":122.5,"v":-12.8},{"a":126.1,"v":-17.6},{"a":128.6,"v":-18.7},{"a":130.5,"v":-13.3},{"a":132.1,"v":-10.7},{"a":135,"v":-7.9},{"a":139.1,"v":-6.1},{"a":146.3,"v":-5.9},{"a":154.2,"v":-5.5},{"a":160.9,"v":-5.3},{"a":164.1,"v":-7.4},{"a":167.9,"v":-10.8},{"a":172.7,"v":-12.2},{"a":176.3,"v":-15.4},{"a":177.4,"v":-20.2},{"a":178.5,"v":-24.1},{"a":180.7,"v":-29.1},{"a":182,"v":-20.2},{"a":184.2,"v":-16.3},{"a":189.8,"v":-12.8},{"a":194,"v":-11.4},{"a":196.6,"v":-11.3},{"a":199.1,"v":-5.8},{"a":202.8,"v":-2.7},{"a":208.4,"v":-2.5},{"a":214.2,"v":-3.7},{"a":218.3,"v":-6.6},{"a":221.8,"v":-7.1},{"a":224.7,"v":-6.9},{"a":229.2,"v":-8.3},{"a":231.7,"v":-13.0},{"a":232.8,"v":-18.4},{"a":235.5,"v":-23.1},{"a":238,"v":-16},{"a":243,"v":-11.6},{"a":247.5,"v":-8.0},{"a":252.4,"v":-5.2},{"a":256.8,"v":-5.7},{"a":260.9,"v":-7.6},{"a":265.5,"v":-8.8},{"a":268.9,"v":-14.1},{"a":272.4,"v":-15.8},{"a":274.3,"v":-13.6},{"a":277.9,"v":-11.6},{"a":282.8,"v":-10.6},{"a":287,"v":-8.5},{"a":292.1,"v":-8.6},{"a":299.6,"v":-9.8},{"a":305.4,"v":-12.8},{"a":313.2,"v":-16.6},{"a":318,"v":-19},{"a":322.3,"v":-20.0},{"a":325.9,"v":-20.4},{"a":330,"v":-17.6},{"a":333.7,"v":-19.3},{"a":336.1,"v":-21.7},{"a":340.5,"v":-20.7},{"a":343.7,"v":-21.3},{"a":348.2,"v":-25.3},{"a":356.8,"v":-28.4},{"a":360,"v":-27.5}]
},
"spacing":0,
"vconcat":[
{"spacing":0,"bounds":"flush","resolve":{"scale":{"size":"independent","x":"independent","y":"independent"}},"hconcat":[
{"width":1830,"height":1980,"layer":[
{"data":{"values":[{"r":10},{"r":20},{"r":30},{"r":40}]},"transform":[{"calculate":"0","as":"z"}],"mark":{"type":"point","shape":"circle","filled":false,"opacity":1,"stroke":"#d3d3d3","strokeWidth":3},"encoding":{"x":{"field":"z","type":"quantitative","scale":{"domain":[-53.533,56.048],"nice":false,"zero":false},"axis":null},"y":{"field":"z","type":"quantitative","scale":{"domain":[-67.126,51.437],"nice":false,"zero":false},"axis":null},"size":{"field":"r","type":"quantitative","scale":{"type":"pow","exponent":2,"domain":[0,45],"range":[0,2259009]},"legend":null}}},
{"data":{"name":"ang"},"transform":[{"calculate":"0","as":"z"},{"calculate":"45*cos(datum.a*PI/180)","as":"ex"},{"calculate":"45*sin(datum.a*PI/180)","as":"ey"}],"mark":{"type":"rule","stroke":"#d3d3d3","strokeWidth":3},"encoding":{"x":{"field":"z","type":"quantitative","scale":{"domain":[-53.533,56.048],"nice":false,"zero":false},"axis":null},"y":{"field":"z","type":"quantitative","scale":{"domain":[-67.126,51.437],"nice":false,"zero":false},"axis":null},"x2":{"field":"ex"},"y2":{"field":"ey"}}},
{"data":{"values":[{"r":45}]},"transform":[{"calculate":"0","as":"z"}],"mark":{"type":"point","shape":"circle","filled":false,"opacity":1,"stroke":"#000000","strokeWidth":3.8},"encoding":{"x":{"field":"z","type":"quantitative","scale":{"domain":[-53.533,56.048],"nice":false,"zero":false},"axis":null},"y":{"field":"z","type":"quantitative","scale":{"domain":[-67.126,51.437],"nice":false,"zero":false},"axis":null},"size":{"field":"r","type":"quantitative","scale":{"type":"pow","exponent":2,"domain":[0,45],"range":[0,2259009]},"legend":null}}},
{"data":{"name":"ang"},"transform":[{"calculate":"45*cos(datum.a*PI/180)","as":"sx"},{"calculate":"45*sin(datum.a*PI/180)","as":"sy"},{"calculate":"46*cos(datum.a*PI/180)","as":"ex"},{"calculate":"46*sin(datum.a*PI/180)","as":"ey"}],"mark":{"type":"rule","stroke":"#000000","strokeWidth":3.5},"encoding":{"x":{"field":"sx","type":"quantitative","scale":{"domain":[-53.533,56.048],"nice":false,"zero":false},"axis":null},"y":{"field":"sy","type":"quantitative","scale":{"domain":[-67.126,51.437],"nice":false,"zero":false},"axis":null},"x2":{"field":"ex"},"y2":{"field":"ey"}}},
{"data":{"name":"ang"},"transform":[{"filter":"datum.a==90"},{"calculate":"0","as":"z"},{"calculate":"46","as":"t"}],"mark":{"type":"rule","stroke":"#000000","strokeWidth":3.5},"encoding":{"x":{"field":"z","type":"quantitative","scale":{"domain":[-53.533,56.048],"nice":false,"zero":false},"axis":null},"y":{"field":"z","type":"quantitative","scale":{"domain":[-67.126,51.437],"nice":false,"zero":false},"axis":null},"y2":{"field":"t"}}},
{"data":{"name":"tk30"},"transform":[{"calculate":"datum.v+30","as":"r"},{"calculate":"-1","as":"xl"},{"calculate":"0","as":"z"}],"mark":{"type":"rule","stroke":"#000000","strokeWidth":3.5},"encoding":{"x":{"field":"xl","type":"quantitative","scale":{"domain":[-53.533,56.048],"nice":false,"zero":false},"axis":null},"x2":{"field":"z"},"y":{"field":"r","type":"quantitative","scale":{"domain":[-67.126,51.437],"nice":false,"zero":false},"axis":null}}},
{"data":{"name":"tk30"},"transform":[{"calculate":"datum.v+30","as":"r"},{"calculate":"datum.v<0?2.2:3.05","as":"lx"}],"mark":{"type":"text","align":"left","baseline":"middle","font":"Liberation Sans","fontSize":41,"fill":"#000000"},"encoding":{"x":{"field":"lx","type":"quantitative","scale":{"domain":[-53.533,56.048],"nice":false,"zero":false},"axis":null},"y":{"field":"r","type":"quantitative","scale":{"domain":[-67.126,51.437],"nice":false,"zero":false},"axis":null},"text":{"field":"v","type":"nominal"}}},
{"data":{"name":"ang"},"transform":[{"calculate":"47.6*cos(datum.a*PI/180)","as":"lx"},{"calculate":"48.5*sin(datum.a*PI/180)","as":"ly"}],"mark":{"type":"text","align":"center","baseline":"middle","font":"Liberation Sans","fontSize":41,"fill":"#000000"},"encoding":{"x":{"field":"lx","type":"quantitative","scale":{"domain":[-53.533,56.048],"nice":false,"zero":false},"axis":null},"y":{"field":"ly","type":"quantitative","scale":{"domain":[-67.126,51.437],"nice":false,"zero":false},"axis":null},"text":{"field":"a","type":"nominal"}}},
{"data":{"name":"a_co"},"transform":[{"calculate":"max(0,datum.v+30)","as":"r"},{"calculate":"datum.r*cos(datum.a*PI/180)","as":"x"},{"calculate":"datum.r*sin(datum.a*PI/180)","as":"y"}],"mark":{"type":"line","stroke":"#000000","strokeWidth":6,"strokeJoin":"round","strokeCap":"round","interpolate":"catmull-rom"},"encoding":{"x":{"field":"x","type":"quantitative","scale":{"domain":[-53.533,56.048],"nice":false,"zero":false},"axis":null},"y":{"field":"y","type":"quantitative","scale":{"domain":[-67.126,51.437],"nice":false,"zero":false},"axis":null},"order":{"field":"a","type":"quantitative"}}},
{"data":{"name":"a_cx"},"transform":[{"calculate":"max(0,datum.v+30)","as":"r"},{"calculate":"datum.r*cos(datum.a*PI/180)","as":"x"},{"calculate":"datum.r*sin(datum.a*PI/180)","as":"y"}],"mark":{"type":"line","stroke":"#ff0000","strokeWidth":6,"strokeJoin":"round","strokeCap":"round","strokeDash":[36,20,0.1,20]},"encoding":{"x":{"field":"x","type":"quantitative","scale":{"domain":[-53.533,56.048],"nice":false,"zero":false},"axis":null},"y":{"field":"y","type":"quantitative","scale":{"domain":[-67.126,51.437],"nice":false,"zero":false},"axis":null},"order":{"field":"a","type":"quantitative"}}},
{"data":{"values":[{"t":"a"}]},"transform":[{"calculate":"-1.68","as":"cx"},{"calculate":"-57.5","as":"cy"}],"mark":{"type":"text","font":"Liberation Serif","fontSize":76,"fontWeight":"bold","align":"center","baseline":"middle","fill":"#000000"},"encoding":{"x":{"field":"cx","type":"quantitative","scale":{"domain":[-53.533,56.048],"nice":false,"zero":false},"axis":null},"y":{"field":"cy","type":"quantitative","scale":{"domain":[-67.126,51.437],"nice":false,"zero":false},"axis":null},"text":{"field":"t","type":"nominal"}}},
{"data":{"values":[{"t":"(","d":-1},{"t":")","d":1}]},"transform":[{"calculate":"-1.68+datum.d*1.9","as":"cx"},{"calculate":"-57.5","as":"cy"}],"mark":{"type":"text","font":"Liberation Serif","fontSize":76,"align":"center","baseline":"middle","fill":"#000000"},"encoding":{"x":{"field":"cx","type":"quantitative","scale":{"domain":[-53.533,56.048],"nice":false,"zero":false},"axis":null},"y":{"field":"cy","type":"quantitative","scale":{"domain":[-67.126,51.437],"nice":false,"zero":false},"axis":null},"text":{"field":"t","type":"nominal"}}}
]},
{"width":1768,"height":1980,"layer":[
{"data":{"values":[{"r":10},{"r":20},{"r":30},{"r":40}]},"transform":[{"calculate":"0","as":"z"}],"mark":{"type":"point","shape":"circle","filled":false,"opacity":1,"stroke":"#d3d3d3","strokeWidth":3},"encoding":{"x":{"field":"z","type":"quantitative","scale":{"domain":[-57.301,51.166],"nice":false,"zero":false},"axis":null},"y":{"field":"z","type":"quantitative","scale":{"domain":[-70.429,51.043],"nice":false,"zero":false},"axis":null},"size":{"field":"r","type":"quantitative","scale":{"type":"pow","exponent":2,"domain":[0,45],"range":[0,2152089]},"legend":null}}},
{"data":{"name":"ang"},"transform":[{"calculate":"0","as":"z"},{"calculate":"45*cos(datum.a*PI/180)","as":"ex"},{"calculate":"45*sin(datum.a*PI/180)","as":"ey"}],"mark":{"type":"rule","stroke":"#d3d3d3","strokeWidth":3},"encoding":{"x":{"field":"z","type":"quantitative","scale":{"domain":[-57.301,51.166],"nice":false,"zero":false},"axis":null},"y":{"field":"z","type":"quantitative","scale":{"domain":[-70.429,51.043],"nice":false,"zero":false},"axis":null},"x2":{"field":"ex"},"y2":{"field":"ey"}}},
{"data":{"values":[{"r":45}]},"transform":[{"calculate":"0","as":"z"}],"mark":{"type":"point","shape":"circle","filled":false,"opacity":1,"stroke":"#000000","strokeWidth":3.8},"encoding":{"x":{"field":"z","type":"quantitative","scale":{"domain":[-57.301,51.166],"nice":false,"zero":false},"axis":null},"y":{"field":"z","type":"quantitative","scale":{"domain":[-70.429,51.043],"nice":false,"zero":false},"axis":null},"size":{"field":"r","type":"quantitative","scale":{"type":"pow","exponent":2,"domain":[0,45],"range":[0,2152089]},"legend":null}}},
{"data":{"name":"ang"},"transform":[{"calculate":"45*cos(datum.a*PI/180)","as":"sx"},{"calculate":"45*sin(datum.a*PI/180)","as":"sy"},{"calculate":"46*cos(datum.a*PI/180)","as":"ex"},{"calculate":"46*sin(datum.a*PI/180)","as":"ey"}],"mark":{"type":"rule","stroke":"#000000","strokeWidth":3.5},"encoding":{"x":{"field":"sx","type":"quantitative","scale":{"domain":[-57.301,51.166],"nice":false,"zero":false},"axis":null},"y":{"field":"sy","type":"quantitative","scale":{"domain":[-70.429,51.043],"nice":false,"zero":false},"axis":null},"x2":{"field":"ex"},"y2":{"field":"ey"}}},
{"data":{"name":"ang"},"transform":[{"filter":"datum.a==90"},{"calculate":"0","as":"z"},{"calculate":"46","as":"t"}],"mark":{"type":"rule","stroke":"#000000","strokeWidth":3.5},"encoding":{"x":{"field":"z","type":"quantitative","scale":{"domain":[-57.301,51.166],"nice":false,"zero":false},"axis":null},"y":{"field":"z","type":"quantitative","scale":{"domain":[-70.429,51.043],"nice":false,"zero":false},"axis":null},"y2":{"field":"t"}}},
{"data":{"name":"tk30"},"transform":[{"calculate":"datum.v+30","as":"r"},{"calculate":"-1","as":"xl"},{"calculate":"0","as":"z"}],"mark":{"type":"rule","stroke":"#000000","strokeWidth":3.5},"encoding":{"x":{"field":"xl","type":"quantitative","scale":{"domain":[-57.301,51.166],"nice":false,"zero":false},"axis":null},"x2":{"field":"z"},"y":{"field":"r","type":"quantitative","scale":{"domain":[-70.429,51.043],"nice":false,"zero":false},"axis":null}}},
{"data":{"name":"tk30"},"transform":[{"calculate":"datum.v+30","as":"r"},{"calculate":"datum.v<0?2.27:3.13","as":"lx"}],"mark":{"type":"text","align":"left","baseline":"middle","font":"Liberation Sans","fontSize":41,"fill":"#000000"},"encoding":{"x":{"field":"lx","type":"quantitative","scale":{"domain":[-57.301,51.166],"nice":false,"zero":false},"axis":null},"y":{"field":"r","type":"quantitative","scale":{"domain":[-70.429,51.043],"nice":false,"zero":false},"axis":null},"text":{"field":"v","type":"nominal"}}},
{"data":{"name":"ang"},"transform":[{"calculate":"47.6*cos(datum.a*PI/180)","as":"lx"},{"calculate":"48.5*sin(datum.a*PI/180)","as":"ly"}],"mark":{"type":"text","align":"center","baseline":"middle","font":"Liberation Sans","fontSize":41,"fill":"#000000"},"encoding":{"x":{"field":"lx","type":"quantitative","scale":{"domain":[-57.301,51.166],"nice":false,"zero":false},"axis":null},"y":{"field":"ly","type":"quantitative","scale":{"domain":[-70.429,51.043],"nice":false,"zero":false},"axis":null},"text":{"field":"a","type":"nominal"}}},
{"data":{"name":"b_co"},"transform":[{"calculate":"max(0,datum.v+30)","as":"r"},{"calculate":"datum.r*cos(datum.a*PI/180)","as":"x"},{"calculate":"datum.r*sin(datum.a*PI/180)","as":"y"}],"mark":{"type":"line","stroke":"#000000","strokeWidth":6,"strokeJoin":"round","strokeCap":"round","interpolate":"catmull-rom"},"encoding":{"x":{"field":"x","type":"quantitative","scale":{"domain":[-57.301,51.166],"nice":false,"zero":false},"axis":null},"y":{"field":"y","type":"quantitative","scale":{"domain":[-70.429,51.043],"nice":false,"zero":false},"axis":null},"order":{"field":"a","type":"quantitative"}}},
{"data":{"name":"b_cx"},"transform":[{"calculate":"max(0,datum.v+30)","as":"r"},{"calculate":"datum.r*cos(datum.a*PI/180)","as":"x"},{"calculate":"datum.r*sin(datum.a*PI/180)","as":"y"}],"mark":{"type":"line","stroke":"#ff0000","strokeWidth":6,"strokeJoin":"round","strokeCap":"round","strokeDash":[36,20,0.1,20],"interpolate":"catmull-rom"},"encoding":{"x":{"field":"x","type":"quantitative","scale":{"domain":[-57.301,51.166],"nice":false,"zero":false},"axis":null},"y":{"field":"y","type":"quantitative","scale":{"domain":[-70.429,51.043],"nice":false,"zero":false},"axis":null},"order":{"field":"a","type":"quantitative"}}},
{"data":{"values":[{"t":"b"}]},"transform":[{"calculate":"-1.66","as":"cx"},{"calculate":"-60.6","as":"cy"}],"mark":{"type":"text","font":"Liberation Serif","fontSize":76,"fontWeight":"bold","align":"center","baseline":"middle","fill":"#000000"},"encoding":{"x":{"field":"cx","type":"quantitative","scale":{"domain":[-57.301,51.166],"nice":false,"zero":false},"axis":null},"y":{"field":"cy","type":"quantitative","scale":{"domain":[-70.429,51.043],"nice":false,"zero":false},"axis":null},"text":{"field":"t","type":"nominal"}}},
{"data":{"values":[{"t":"(","d":-1},{"t":")","d":1}]},"transform":[{"calculate":"-1.66+datum.d*2.07","as":"cx"},{"calculate":"-60.6","as":"cy"}],"mark":{"type":"text","font":"Liberation Serif","fontSize":76,"align":"center","baseline":"middle","fill":"#000000"},"encoding":{"x":{"field":"cx","type":"quantitative","scale":{"domain":[-57.301,51.166],"nice":false,"zero":false},"axis":null},"y":{"field":"cy","type":"quantitative","scale":{"domain":[-70.429,51.043],"nice":false,"zero":false},"axis":null},"text":{"field":"t","type":"nominal"}}}
]}
]},
{"spacing":0,"bounds":"flush","resolve":{"scale":{"size":"independent","x":"independent","y":"independent"}},"hconcat":[
{"width":1830,"height":1956,"layer":[
{"data":{"values":[{"r":10},{"r":20},{"r":30},{"r":40}]},"transform":[{"calculate":"0","as":"z"}],"mark":{"type":"point","shape":"circle","filled":false,"opacity":1,"stroke":"#d3d3d3","strokeWidth":3},"encoding":{"x":{"field":"z","type":"quantitative","scale":{"domain":[-53.533,56.048],"nice":false,"zero":false},"axis":null},"y":{"field":"z","type":"quantitative","scale":{"domain":[-61.796,55.329],"nice":false,"zero":false},"axis":null},"size":{"field":"r","type":"quantitative","scale":{"type":"pow","exponent":2,"domain":[0,45],"range":[0,2259009]},"legend":null}}},
{"data":{"name":"ang"},"transform":[{"calculate":"0","as":"z"},{"calculate":"45*cos(datum.a*PI/180)","as":"ex"},{"calculate":"45*sin(datum.a*PI/180)","as":"ey"}],"mark":{"type":"rule","stroke":"#d3d3d3","strokeWidth":3,"strokeDash":[65,18,3,18]},"encoding":{"x":{"field":"z","type":"quantitative","scale":{"domain":[-53.533,56.048],"nice":false,"zero":false},"axis":null},"y":{"field":"z","type":"quantitative","scale":{"domain":[-61.796,55.329],"nice":false,"zero":false},"axis":null},"x2":{"field":"ex"},"y2":{"field":"ey"}}},
{"data":{"values":[{"r":45}]},"transform":[{"calculate":"0","as":"z"}],"mark":{"type":"point","shape":"circle","filled":false,"opacity":1,"stroke":"#000000","strokeWidth":3.8},"encoding":{"x":{"field":"z","type":"quantitative","scale":{"domain":[-53.533,56.048],"nice":false,"zero":false},"axis":null},"y":{"field":"z","type":"quantitative","scale":{"domain":[-61.796,55.329],"nice":false,"zero":false},"axis":null},"size":{"field":"r","type":"quantitative","scale":{"type":"pow","exponent":2,"domain":[0,45],"range":[0,2259009]},"legend":null}}},
{"data":{"name":"ang"},"transform":[{"calculate":"45*cos(datum.a*PI/180)","as":"sx"},{"calculate":"45*sin(datum.a*PI/180)","as":"sy"},{"calculate":"46*cos(datum.a*PI/180)","as":"ex"},{"calculate":"46*sin(datum.a*PI/180)","as":"ey"}],"mark":{"type":"rule","stroke":"#000000","strokeWidth":3.5},"encoding":{"x":{"field":"sx","type":"quantitative","scale":{"domain":[-53.533,56.048],"nice":false,"zero":false},"axis":null},"y":{"field":"sy","type":"quantitative","scale":{"domain":[-61.796,55.329],"nice":false,"zero":false},"axis":null},"x2":{"field":"ex"},"y2":{"field":"ey"}}},
{"data":{"name":"ang"},"transform":[{"filter":"datum.a==90"},{"calculate":"0","as":"z"},{"calculate":"46","as":"t"}],"mark":{"type":"rule","stroke":"#000000","strokeWidth":3.5},"encoding":{"x":{"field":"z","type":"quantitative","scale":{"domain":[-53.533,56.048],"nice":false,"zero":false},"axis":null},"y":{"field":"z","type":"quantitative","scale":{"domain":[-61.796,55.329],"nice":false,"zero":false},"axis":null},"y2":{"field":"t"}}},
{"data":{"name":"tk30"},"transform":[{"calculate":"datum.v+30","as":"r"},{"calculate":"-1","as":"xl"},{"calculate":"0","as":"z"}],"mark":{"type":"rule","stroke":"#000000","strokeWidth":3.5},"encoding":{"x":{"field":"xl","type":"quantitative","scale":{"domain":[-53.533,56.048],"nice":false,"zero":false},"axis":null},"x2":{"field":"z"},"y":{"field":"r","type":"quantitative","scale":{"domain":[-61.796,55.329],"nice":false,"zero":false},"axis":null}}},
{"data":{"name":"tk30"},"transform":[{"calculate":"datum.v+30","as":"r"},{"calculate":"datum.v<0?2.2:3.05","as":"lx"}],"mark":{"type":"text","align":"left","baseline":"middle","font":"Liberation Sans","fontSize":41,"fill":"#000000"},"encoding":{"x":{"field":"lx","type":"quantitative","scale":{"domain":[-53.533,56.048],"nice":false,"zero":false},"axis":null},"y":{"field":"r","type":"quantitative","scale":{"domain":[-61.796,55.329],"nice":false,"zero":false},"axis":null},"text":{"field":"v","type":"nominal"}}},
{"data":{"name":"ang"},"transform":[{"calculate":"47.6*cos(datum.a*PI/180)","as":"lx"},{"calculate":"48.5*sin(datum.a*PI/180)","as":"ly"}],"mark":{"type":"text","align":"center","baseline":"middle","font":"Liberation Sans","fontSize":41,"fill":"#000000"},"encoding":{"x":{"field":"lx","type":"quantitative","scale":{"domain":[-53.533,56.048],"nice":false,"zero":false},"axis":null},"y":{"field":"ly","type":"quantitative","scale":{"domain":[-61.796,55.329],"nice":false,"zero":false},"axis":null},"text":{"field":"a","type":"nominal"}}},
{"data":{"name":"c_co"},"transform":[{"calculate":"max(0,datum.v+30)","as":"r"},{"calculate":"datum.r*cos(datum.a*PI/180)","as":"x"},{"calculate":"datum.r*sin(datum.a*PI/180)","as":"y"}],"mark":{"type":"line","stroke":"#000000","strokeWidth":6,"strokeJoin":"round","strokeCap":"round"},"encoding":{"x":{"field":"x","type":"quantitative","scale":{"domain":[-53.533,56.048],"nice":false,"zero":false},"axis":null},"y":{"field":"y","type":"quantitative","scale":{"domain":[-61.796,55.329],"nice":false,"zero":false},"axis":null},"order":{"field":"a","type":"quantitative"}}},
{"data":{"name":"c_cx"},"transform":[{"calculate":"max(0,datum.v+30)","as":"r"},{"calculate":"datum.r*cos(datum.a*PI/180)","as":"x"},{"calculate":"datum.r*sin(datum.a*PI/180)","as":"y"}],"mark":{"type":"line","stroke":"#ff0000","strokeWidth":6,"strokeJoin":"round","strokeCap":"round","strokeDash":[36,20,0.1,20]},"encoding":{"x":{"field":"x","type":"quantitative","scale":{"domain":[-53.533,56.048],"nice":false,"zero":false},"axis":null},"y":{"field":"y","type":"quantitative","scale":{"domain":[-61.796,55.329],"nice":false,"zero":false},"axis":null},"order":{"field":"a","type":"quantitative"}}},
{"data":{"values":[{"t":"c"}]},"transform":[{"calculate":"-1.68","as":"cx"},{"calculate":"-57.5","as":"cy"}],"mark":{"type":"text","font":"Liberation Serif","fontSize":76,"fontWeight":"bold","align":"center","baseline":"middle","fill":"#000000"},"encoding":{"x":{"field":"cx","type":"quantitative","scale":{"domain":[-53.533,56.048],"nice":false,"zero":false},"axis":null},"y":{"field":"cy","type":"quantitative","scale":{"domain":[-61.796,55.329],"nice":false,"zero":false},"axis":null},"text":{"field":"t","type":"nominal"}}},
{"data":{"values":[{"t":"(","d":-1},{"t":")","d":1}]},"transform":[{"calculate":"-1.68+datum.d*1.77","as":"cx"},{"calculate":"-57.5","as":"cy"}],"mark":{"type":"text","font":"Liberation Serif","fontSize":76,"align":"center","baseline":"middle","fill":"#000000"},"encoding":{"x":{"field":"cx","type":"quantitative","scale":{"domain":[-53.533,56.048],"nice":false,"zero":false},"axis":null},"y":{"field":"cy","type":"quantitative","scale":{"domain":[-61.796,55.329],"nice":false,"zero":false},"axis":null},"text":{"field":"t","type":"nominal"}}}
]},
{"width":1768,"height":1956,"layer":[
{"data":{"values":[{"r":10},{"r":20},{"r":30},{"r":40},{"r":50},{"r":60}]},"transform":[{"calculate":"0","as":"z"}],"mark":{"type":"point","shape":"circle","filled":false,"opacity":1,"stroke":"#d3d3d3","strokeWidth":3},"encoding":{"x":{"field":"z","type":"quantitative","scale":{"domain":[-81.43,72.711],"nice":false,"zero":false},"axis":null},"y":{"field":"z","type":"quantitative","scale":{"domain":[-91.02,79.512],"nice":false,"zero":false},"axis":null},"size":{"field":"r","type":"quantitative","scale":{"type":"pow","exponent":2,"domain":[0,65],"range":[0,2223677]},"legend":null}}},
{"data":{"name":"ang"},"transform":[{"calculate":"0","as":"z"},{"calculate":"65*cos(datum.a*PI/180)","as":"ex"},{"calculate":"65*sin(datum.a*PI/180)","as":"ey"}],"mark":{"type":"rule","stroke":"#d3d3d3","strokeWidth":3},"encoding":{"x":{"field":"z","type":"quantitative","scale":{"domain":[-81.43,72.711],"nice":false,"zero":false},"axis":null},"y":{"field":"z","type":"quantitative","scale":{"domain":[-91.02,79.512],"nice":false,"zero":false},"axis":null},"x2":{"field":"ex"},"y2":{"field":"ey"}}},
{"data":{"values":[{"r":65}]},"transform":[{"calculate":"0","as":"z"}],"mark":{"type":"point","shape":"circle","filled":false,"opacity":1,"stroke":"#000000","strokeWidth":3.8},"encoding":{"x":{"field":"z","type":"quantitative","scale":{"domain":[-81.43,72.711],"nice":false,"zero":false},"axis":null},"y":{"field":"z","type":"quantitative","scale":{"domain":[-91.02,79.512],"nice":false,"zero":false},"axis":null},"size":{"field":"r","type":"quantitative","scale":{"type":"pow","exponent":2,"domain":[0,65],"range":[0,2223677]},"legend":null}}},
{"data":{"name":"ang"},"transform":[{"calculate":"65*cos(datum.a*PI/180)","as":"sx"},{"calculate":"65*sin(datum.a*PI/180)","as":"sy"},{"calculate":"66.4*cos(datum.a*PI/180)","as":"ex"},{"calculate":"66.4*sin(datum.a*PI/180)","as":"ey"}],"mark":{"type":"rule","stroke":"#000000","strokeWidth":3.5},"encoding":{"x":{"field":"sx","type":"quantitative","scale":{"domain":[-81.43,72.711],"nice":false,"zero":false},"axis":null},"y":{"field":"sy","type":"quantitative","scale":{"domain":[-91.02,79.512],"nice":false,"zero":false},"axis":null},"x2":{"field":"ex"},"y2":{"field":"ey"}}},
{"data":{"name":"ang"},"transform":[{"filter":"datum.a==90"},{"calculate":"0","as":"z"},{"calculate":"66.3","as":"t"}],"mark":{"type":"rule","stroke":"#000000","strokeWidth":3.5},"encoding":{"x":{"field":"z","type":"quantitative","scale":{"domain":[-81.43,72.711],"nice":false,"zero":false},"axis":null},"y":{"field":"z","type":"quantitative","scale":{"domain":[-91.02,79.512],"nice":false,"zero":false},"axis":null},"y2":{"field":"t"}}},
{"data":{"name":"tk50"},"transform":[{"calculate":"datum.v+50","as":"r"},{"calculate":"-1.45","as":"xl"},{"calculate":"0","as":"z"}],"mark":{"type":"rule","stroke":"#000000","strokeWidth":3.5},"encoding":{"x":{"field":"xl","type":"quantitative","scale":{"domain":[-81.43,72.711],"nice":false,"zero":false},"axis":null},"x2":{"field":"z"},"y":{"field":"r","type":"quantitative","scale":{"domain":[-91.02,79.512],"nice":false,"zero":false},"axis":null}}},
{"data":{"name":"tk50"},"transform":[{"calculate":"datum.v+50","as":"r"},{"calculate":"datum.v<0?3.1:4.7","as":"lx"}],"mark":{"type":"text","align":"left","baseline":"middle","font":"Liberation Sans","fontSize":41,"fill":"#000000"},"encoding":{"x":{"field":"lx","type":"quantitative","scale":{"domain":[-81.43,72.711],"nice":false,"zero":false},"axis":null},"y":{"field":"r","type":"quantitative","scale":{"domain":[-91.02,79.512],"nice":false,"zero":false},"axis":null},"text":{"field":"v","type":"nominal"}}},
{"data":{"name":"ang"},"transform":[{"calculate":"68.8*cos(datum.a*PI/180)","as":"lx"},{"calculate":"70*sin(datum.a*PI/180)","as":"ly"}],"mark":{"type":"text","align":"center","baseline":"middle","font":"Liberation Sans","fontSize":41,"fill":"#000000"},"encoding":{"x":{"field":"lx","type":"quantitative","scale":{"domain":[-81.43,72.711],"nice":false,"zero":false},"axis":null},"y":{"field":"ly","type":"quantitative","scale":{"domain":[-91.02,79.512],"nice":false,"zero":false},"axis":null},"text":{"field":"a","type":"nominal"}}},
{"data":{"name":"d_co"},"transform":[{"calculate":"max(0,datum.v+50)","as":"r"},{"calculate":"datum.r*cos(datum.a*PI/180)","as":"x"},{"calculate":"datum.r*sin(datum.a*PI/180)","as":"y"}],"mark":{"type":"line","stroke":"#000000","strokeWidth":6,"strokeJoin":"round","strokeCap":"round","interpolate":"catmull-rom"},"encoding":{"x":{"field":"x","type":"quantitative","scale":{"domain":[-81.43,72.711],"nice":false,"zero":false},"axis":null},"y":{"field":"y","type":"quantitative","scale":{"domain":[-91.02,79.512],"nice":false,"zero":false},"axis":null},"order":{"field":"a","type":"quantitative"}}},
{"data":{"name":"d_cx"},"transform":[{"calculate":"max(0,datum.v+50)","as":"r"},{"calculate":"datum.r*cos(datum.a*PI/180)","as":"x"},{"calculate":"datum.r*sin(datum.a*PI/180)","as":"y"}],"mark":{"type":"line","stroke":"#ff0000","strokeWidth":6,"strokeJoin":"round","strokeCap":"round","strokeDash":[36,20,0.1,20],"interpolate":"catmull-rom"},"encoding":{"x":{"field":"x","type":"quantitative","scale":{"domain":[-81.43,72.711],"nice":false,"zero":false},"axis":null},"y":{"field":"y","type":"quantitative","scale":{"domain":[-91.02,79.512],"nice":false,"zero":false},"axis":null},"order":{"field":"a","type":"quantitative"}}},
{"data":{"values":[{"t":"d"}]},"transform":[{"calculate":"-2.35","as":"cx"},{"calculate":"-84.8","as":"cy"}],"mark":{"type":"text","font":"Liberation Serif","fontSize":76,"fontWeight":"bold","align":"center","baseline":"middle","fill":"#000000"},"encoding":{"x":{"field":"cx","type":"quantitative","scale":{"domain":[-81.43,72.711],"nice":false,"zero":false},"axis":null},"y":{"field":"cy","type":"quantitative","scale":{"domain":[-91.02,79.512],"nice":false,"zero":false},"axis":null},"text":{"field":"t","type":"nominal"}}},
{"data":{"values":[{"t":"(","d":-1},{"t":")","d":1}]},"transform":[{"calculate":"-2.35+datum.d*2.95","as":"cx"},{"calculate":"-84.8","as":"cy"}],"mark":{"type":"text","font":"Liberation Serif","fontSize":76,"align":"center","baseline":"middle","fill":"#000000"},"encoding":{"x":{"field":"cx","type":"quantitative","scale":{"domain":[-81.43,72.711],"nice":false,"zero":false},"axis":null},"y":{"field":"cy","type":"quantitative","scale":{"domain":[-91.02,79.512],"nice":false,"zero":false},"axis":null},"text":{"field":"t","type":"nominal"}}}
]}
]}
]
}
